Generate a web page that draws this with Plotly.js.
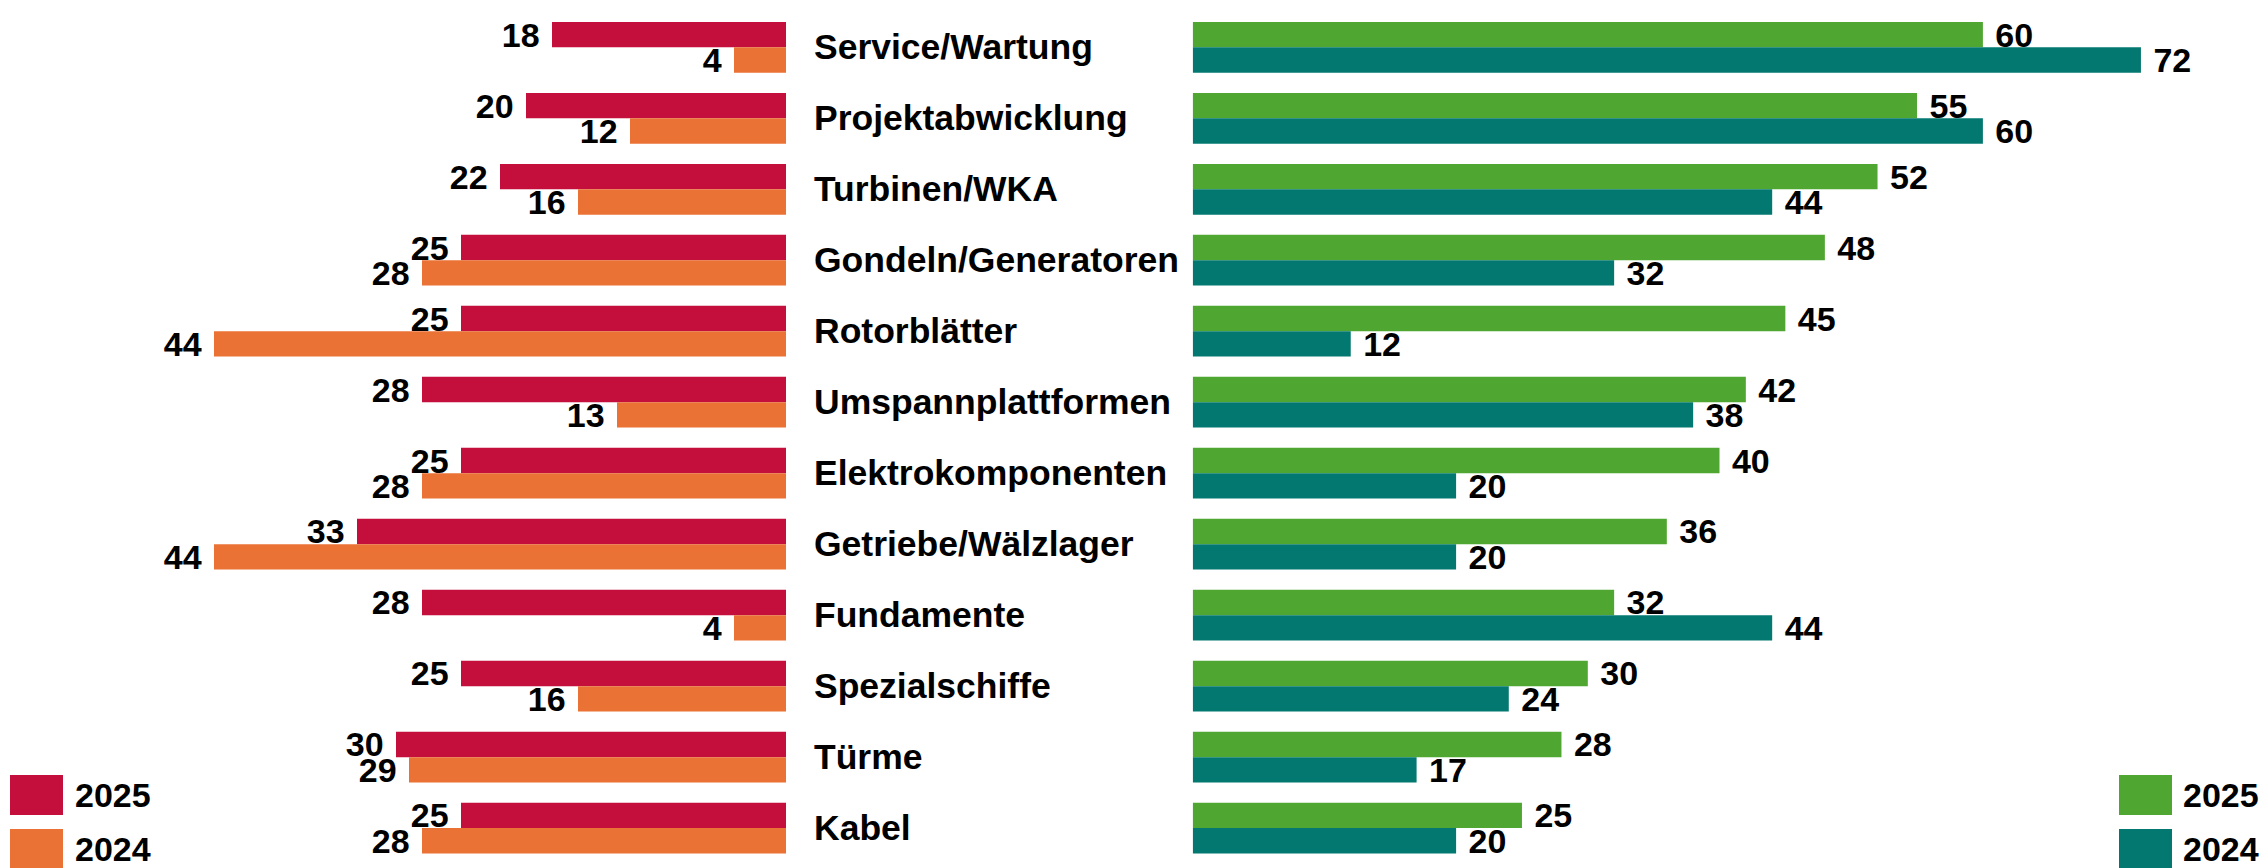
<!DOCTYPE html>
<html>
<head>
<meta charset="utf-8">
<script src="https://cdn.plot.ly/plotly-3.0.1.min.js"></script>
<style>html,body{margin:0;padding:0;background:#fff;}#chart{width:2267px;height:868px;}</style>
</head>
<body>
<div id="chart"></div>
<script>
const categories = ["Service/Wartung","Projektabwicklung","Turbinen/WKA","Gondeln/Generatoren","Rotorblätter","Umspannplattformen","Elektrokomponenten","Getriebe/Wälzlager","Fundamente","Spezialschiffe","Türme","Kabel"];
const left2025  = [18,20,22,25,25,28,25,33,28,25,30,25];
const left2024  = [4,12,16,28,44,13,28,44,4,16,29,28];
const right2025 = [60,55,52,48,45,42,40,36,32,30,28,25];
const right2024 = [72,60,44,32,12,38,20,20,44,24,17,20];
const legendLabels = ["2025","2024"];

const W = 2267, H = 868;
const C = {red:"#C40E3C", orange:"#EA7234", green:"#4FA630", teal:"#037870"};
const FONT = "Liberation Sans, Arial, sans-serif";
const valFont = {family: FONT, size: 34, color: "#000", weight: 700};

function barTrace(vals, color, xaxis, side){
  return {
    type: "bar", orientation: "h", x: vals, y: categories,
    xaxis: xaxis, yaxis: "y",
    marker: {color: color, line: {width: 0}},
    text: vals.map(String),
    texttemplate: side === "left" ? "%{text}\u00a0" : "\u00a0%{text}",
    textposition: "outside", constraintext: "none", cliponaxis: false,
    outsidetextfont: valFont, textfont: valFont,
    hoverinfo: "skip", showlegend: false
  };
}

const data = [
  barTrace(left2025, C.red, "x", "left"),
  barTrace(left2024, C.orange, "x", "left"),
  barTrace(right2025, C.green, "x2", "right"),
  barTrace(right2024, C.teal, "x2", "right")
];

const annotations = categories.map(c => ({
  xref: "paper", yref: "y", x: 812/W, y: c, xanchor: "left", yanchor: "middle",
  text: "<b>" + c + "</b>", showarrow: false,
  font: {family: FONT, size: 35.5, color: "#000"}
}));

const shapes = [];
const legendDefs = [
  {x0: 10, color: [C.red, C.orange], tx: 73},
  {x0: 2119, color: [C.green, C.teal], tx: 2181}
];
const legendRows = [{top: 775, bot: 815}, {top: 829, bot: 869}];
legendDefs.forEach(d => {
  legendRows.forEach((r, i) => {
    shapes.push({type: "rect", xref: "paper", yref: "paper",
      x0: d.x0/W, x1: (d.x0+53)/W, y0: 1 - r.bot/H, y1: 1 - r.top/H,
      fillcolor: d.color[i], line: {width: 0}});
    annotations.push({xref: "paper", yref: "paper", x: d.tx/W, y: 1 - ((r.top+r.bot)/2)/H,
      xanchor: "left", yanchor: "middle", showarrow: false,
      text: "<b>" + legendLabels[i] + "</b>", font: {family: FONT, size: 34, color: "#000"}});
  });
});

const layout = {
  width: W, height: H,
  margin: {l: 0, r: 0, t: 0, b: 0, pad: 0},
  paper_bgcolor: "#fff", plot_bgcolor: "rgba(0,0,0,0)",
  barmode: "group", bargap: 0.285, bargroupgap: 0,
  showlegend: false,
  xaxis: {domain: [0, 786/W], range: [786/13.0, 0], visible: false, fixedrange: true},
  xaxis2: {domain: [1192.7/W, 1], range: [0, (W-1192.7)/13.17], visible: false, fixedrange: true},
  yaxis: {domain: [1 - 863.6/H, 1 - 11.8/H], type: "category", categoryorder: "array",
    categoryarray: categories, range: [11.5, -0.5], visible: false, fixedrange: true},
  annotations: annotations,
  shapes: shapes
};

Plotly.newPlot("chart", data, layout, {staticPlot: true, displayModeBar: false});
</script>
</body>
</html>
